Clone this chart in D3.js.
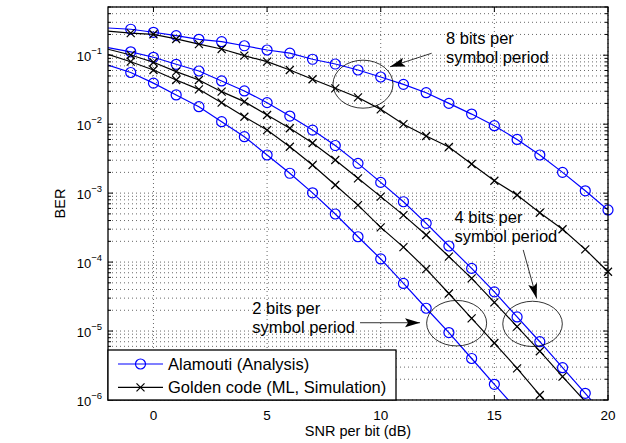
<!DOCTYPE html>
<html>
<head>
<meta charset="utf-8">
<script src="https://cdn.jsdelivr.net/npm/d3@7"></script>
<style>
body{margin:0;background:#fff;}
svg{font-family:"Liberation Sans",Arial,Helvetica,sans-serif;}
</style>
</head>
<body>
<svg id="chart" width="626" height="443"></svg>
<script>
// SNR per bit (dB), one entry per curve sample
var snr = [-2,-1,0,1,2,3,4,5,6,7,8,9,10,11,12,13,14,15,16,17,18,19,20];

// BER, 8 / 4 / 2 bits per symbol period
var alamouti8 = [0.248,0.238,0.215,0.192,0.170,0.157,0.137,0.119,0.107,0.0873,0.0745,0.061,0.0483,0.0378,0.0286,0.020,0.014,0.0095,0.0060,0.00357,0.0020,0.00108,5.7e-4];
var golden8   = [0.224,0.209,0.201,0.172,0.145,0.123,0.0984,0.0805,0.061,0.0448,0.0331,0.0244,0.0164,0.010,0.00673,0.00467,0.00264,0.00151,9.4e-4,5.2e-4,2.99e-4,1.53e-4,7.25e-5];
var alamouti4 = [0.1285,0.112,0.0933,0.0738,0.059,0.0423,0.0303,0.0205,0.0131,0.0082,0.0049,0.0027,0.00143,7.5e-4,3.65e-4,1.71e-4,8.1e-5,3.7e-5,1.6e-5,7.0e-6,2.94e-6,1.25e-6,5.2e-7];
var golden4   = [0.122,0.1007,0.0789,0.0577,0.0437,0.0296,0.0212,0.0136,0.00871,0.00533,0.00302,0.00164,8.9e-4,4.8e-4,2.47e-4,1.2e-4,5.8e-5,2.6e-5,1.16e-5,5.1e-6,2.18e-6,9.5e-7];
var golden2   = [0.103,0.0805,0.061,0.0437,0.032,0.0205,0.0128,0.0082,0.00471,0.00256,0.00131,6.7e-4,3.19e-4,1.65e-4,7.9e-5,3.5e-5,1.53e-5,6.7e-6,2.88e-6,1.18e-6,4.8e-7];
var alamouti2 = [0.0721,0.0561,0.0394,0.0265,0.0179,0.01086,0.00658,0.00357,0.00194,0.00101,4.98e-4,2.33e-4,1.11e-4,4.9e-5,2.14e-5,9.5e-6,4.0e-6,1.69e-6,7.2e-7];

var xTicks = [0,5,10,15,20];
var yDecades = [1e-6,1e-5,1e-4,1e-3,1e-2,1e-1];
var legendLabels = ["Alamouti (Analysis)","Golden code (ML, Simulation)"];

// annotations in data units: ellipse centre, half width (dB), half height (decades)
var ellipses = [[9.22,0.038,1.32,0.348],[16.68,1.27e-5,1.31,0.328],[13.34,1.30e-5,1.32,0.33]];
var arrows = [[12.24,0.1067,10.41,0.068],[16.27,1.5e-4,16.86,2.98e-5],[9.09,1.32e-5,11.73,1.32e-5]];
var notes = [[12.87,0.144,"8 bits per","symbol period"],[13.25,3.63e-4,"4 bits per","symbol period"],[4.35,1.75e-5,"2 bits per","symbol period"]];

var svg = d3.select("#chart");
var x0 = 108, x1 = 608, y0 = 7, y1 = 400;
var x = d3.scaleLinear().domain([-2,20]).range([x0,x1]);
var y = d3.scaleLog().domain([1e-6,0.5]).range([y1,y0]);

/* grid */
var yGrid = [];
yDecades.forEach(function(d){
    for(var m=1;m<=9;m++){
        var v = m*d;
        if(v<=0.5+1e-12) yGrid.push({v:v, major:m==1});
    }
});
var grid = svg.append("g").attr("stroke","#000").attr("stroke-width",0.6).attr("stroke-dasharray","1,3");
grid.selectAll(".gy").data(yGrid).enter().append("line")
    .attr("x1",x0).attr("x2",x1)
    .attr("y1",function(d){return y(d.v);}).attr("y2",function(d){return y(d.v);});
grid.selectAll(".gx").data(xTicks).enter().append("line")
    .attr("x1",function(d){return x(d);}).attr("x2",function(d){return x(d);})
    .attr("y1",y0).attr("y2",y1);

/* curves */
svg.append("clipPath").attr("id","clip").append("rect")
    .attr("x",x0).attr("y",y0).attr("width",x1-x0).attr("height",y1-y0);

var series = [
    {v:alamouti8, c:"#0000ff", m:"o"},
    {v:golden8,   c:"#000000", m:"x"},
    {v:alamouti4, c:"#0000ff", m:"o"},
    {v:golden4,   c:"#000000", m:"x"},
    {v:golden2,   c:"#000000", m:"x"},
    {v:alamouti2, c:"#0000ff", m:"o"}
];
var line = d3.line().x(function(d){return x(d[0]);}).y(function(d){return y(d[1]);});

series.forEach(function(s){
    var pts = s.v.map(function(d,i){return [snr[i],d];});
    svg.append("path").datum(pts)
        .attr("clip-path","url(#clip)")
        .attr("fill","none").attr("stroke",s.c).attr("stroke-width",1.2)
        .attr("d",line);
    var mk = pts.filter(function(d){return d[0]>-2 && d[1]>=1e-6;});
    if(s.m=="o"){
        svg.selectAll(null).data(mk).enter().append("circle")
            .attr("cx",function(d){return x(d[0]);})
            .attr("cy",function(d){return y(d[1]);})
            .attr("r",5).attr("fill","none").attr("stroke",s.c).attr("stroke-width",1.2);
    } else {
        svg.selectAll(null).data(mk).enter().append("path")
            .attr("transform",function(d){return "translate("+x(d[0])+","+y(d[1])+")";})
            .attr("d","M-4,-4L4,4M-4,4L4,-4")
            .attr("fill","none").attr("stroke",s.c).attr("stroke-width",1.2);
    }
});

/* annotations */
ellipses.forEach(function(e){
    svg.append("ellipse")
        .attr("cx",x(e[0])).attr("cy",y(e[1]))
        .attr("rx",x(e[0]+e[2])-x(e[0]))
        .attr("ry",y(e[1])-y(e[1]*Math.pow(10,e[3])))
        .attr("fill","none").attr("stroke","#000").attr("stroke-width",0.8);
});
arrows.forEach(function(a){
    var xa=x(a[0]), ya=y(a[1]), xb=x(a[2]), yb=y(a[3]);
    var ang = Math.atan2(yb-ya,xb-xa)*180/Math.PI;
    svg.append("line").attr("x1",xa).attr("y1",ya).attr("x2",xb).attr("y2",yb)
        .attr("stroke","#000").attr("stroke-width",0.8);
    svg.append("path")
        .attr("transform","translate("+xb+","+yb+") rotate("+ang+")")
        .attr("d","M0,0L-15,-4.5L-12,0L-15,4.5Z").attr("fill","#000");
});
notes.forEach(function(n){
    var t = svg.append("text").attr("x",x(n[0])).attr("y",y(n[1]))
        .attr("font-size","16.5px").attr("fill","#000");
    t.append("tspan").attr("x",x(n[0])).text(n[2]);
    t.append("tspan").attr("x",x(n[0])).attr("dy",19).text(n[3]);
});

/* axes box + ticks */
var ax = svg.append("g").attr("stroke","#000").attr("stroke-width",1);
yGrid.forEach(function(d){
    var len = d.major ? 5 : 3;
    ax.append("line").attr("x1",x0).attr("x2",x0+len).attr("y1",y(d.v)).attr("y2",y(d.v));
    ax.append("line").attr("x1",x1).attr("x2",x1-len).attr("y1",y(d.v)).attr("y2",y(d.v));
});
xTicks.forEach(function(d){
    ax.append("line").attr("x1",x(d)).attr("x2",x(d)).attr("y1",y1).attr("y2",y1-5);
    ax.append("line").attr("x1",x(d)).attr("x2",x(d)).attr("y1",y0).attr("y2",y0+5);
});
svg.append("rect").attr("x",x0).attr("y",y0).attr("width",x1-x0).attr("height",y1-y0)
    .attr("fill","none").attr("stroke","#000").attr("stroke-width",1.3);

svg.selectAll(".xt").data(xTicks).enter().append("text")
    .attr("x",function(d){return x(d);}).attr("y",419.5)
    .attr("text-anchor","middle").attr("font-size","13.5px").text(function(d){return d;});

yDecades.forEach(function(d){
    var e = Math.round(Math.log10(d));
    var t = svg.append("text").attr("x",x0-6).attr("y",y(d)+6)
        .attr("text-anchor","end").attr("font-size","13px");
    t.append("tspan").text("10");
    t.append("tspan").attr("dy",-7).attr("font-size","9.5px").text("\u2212"+(-e));
});

svg.append("text").attr("x",(x0+x1)/2).attr("y",436).attr("text-anchor","middle")
    .attr("font-size","14.5px").text("SNR per bit (dB)");
svg.append("text").attr("transform","translate(65,"+((y0+y1)/2)+") rotate(-90)")
    .attr("text-anchor","middle").attr("font-size","14.5px").text("BER");

/* legend */
var lg = svg.append("g");
lg.append("rect").attr("x",x0).attr("y",350).attr("width",288).attr("height",50)
    .attr("fill","#fff").attr("stroke","#000").attr("stroke-width",1.3);
legendLabels.forEach(function(l,i){
    var s = series[i], yy = 364 + i*23.3;
    lg.append("line").attr("x1",118).attr("x2",163).attr("y1",yy).attr("y2",yy)
        .attr("stroke",s.c).attr("stroke-width",1.2);
    if(s.m=="o"){
        lg.append("circle").attr("cx",140.5).attr("cy",yy).attr("r",5)
            .attr("fill","none").attr("stroke",s.c).attr("stroke-width",1.2);
    } else {
        lg.append("path").attr("transform","translate(140.5,"+yy+")")
            .attr("d","M-4,-4L4,4M-4,4L4,-4").attr("stroke",s.c).attr("stroke-width",1.2);
    }
    lg.append("text").attr("x",168).attr("y",yy+6).attr("font-size","16.5px").text(l);
});
</script>
</body>
</html>
